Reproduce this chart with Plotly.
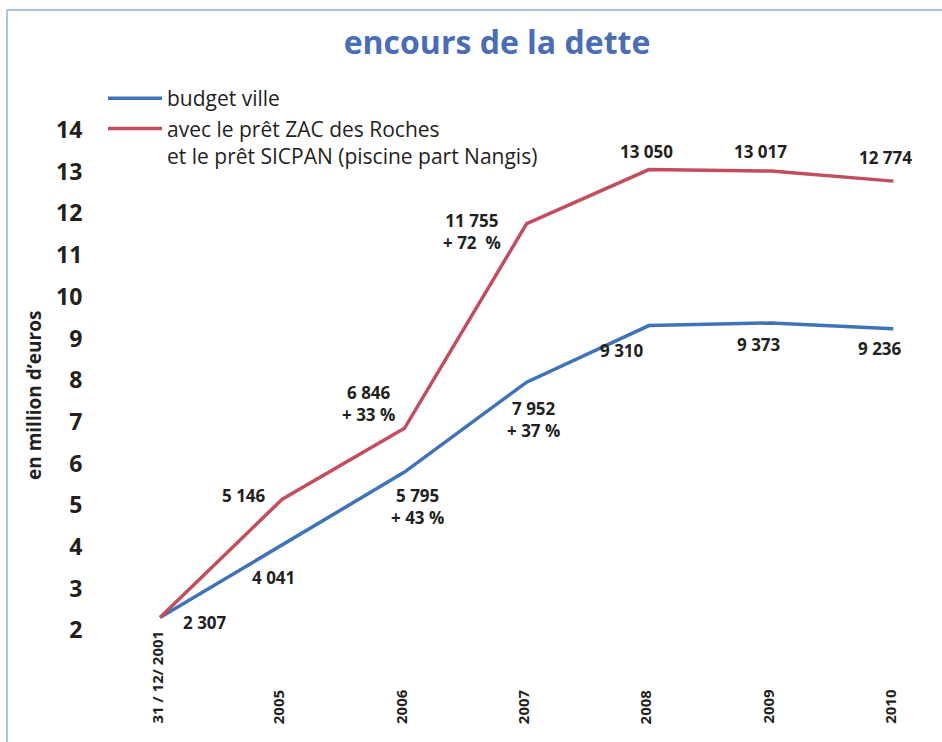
import plotly.graph_objects as go

# ---- data ----
categories = ["31 / 12/ 2001", "2005", "2006", "2007", "2008", "2009", "2010"]
budget_ville = [2.307, 4.041, 5.795, 7.952, 9.310, 9.373, 9.236]
avec_prets = [2.307, 5.146, 6.846, 11.755, 13.050, 13.017, 12.774]
budget_labels = ["2 307", "4 041", "5 795<br>+ 43 %", "7 952<br>+ 37 %", "9 310", "9 373", "9 236"]
avec_labels = [None, "5 146", "6 846<br>+ 33 %", "11 755<br>+ 72  %", "13 050", "13 017", "12 774"]
y_ticks = list(range(2, 15))

# ---- layout constants ----
W, H = 942, 742
L, R, T, B = 140, 12, 105, 95
PW, PH = W - L - R, H - T - B

def px_x(p):
    return (p - L) / PW

def px_y(p):
    return (H - B - p) / PH

BLUE = "#3f72b8"
RED = "#c24e5d"
TXT = "#231f20"
FONT = "Open Sans"

fig = go.Figure()
fig.add_trace(go.Scatter(x=categories, y=budget_ville, mode="lines", name="budget ville",
                         line=dict(color=BLUE, width=3.5)))
fig.add_trace(go.Scatter(x=categories, y=avec_prets, mode="lines",
                         name="avec le prêt ZAC des Roches<br>et le prêt SICPAN (piscine part Nangis)",
                         line=dict(color=RED, width=3.5)))

ann = []
# data labels (pixel offsets relative to points)
b_off = [(45, -5), (-9, -32), (13, -34), (7, -37), (-27, -25), (-12, -22), (-13, -20)]
r_off = [None, (-38, 4), (-36, 25), (-55, -8), (-2, 18), (-11, 20), (-8, 24)]
lab_font = dict(family=FONT, size=17, color=TXT, weight=700)
for i, (v, t, o) in enumerate(zip(budget_ville, budget_labels, b_off)):
    ann.append(dict(x=i, y=v, xref="x", yref="y", text=t, showarrow=False,
                    xshift=o[0], yshift=o[1], font=lab_font))
for i, (v, t, o) in enumerate(zip(avec_prets, avec_labels, r_off)):
    if t is None:
        continue
    ann.append(dict(x=i, y=v, xref="x", yref="y", text=t, showarrow=False,
                    xshift=o[0], yshift=o[1], font=lab_font))
# x category labels (rotated, bottom aligned)
for i, c in enumerate(categories):
    ann.append(dict(x=i, y=px_y(726), xref="x", yref="paper", text=c, textangle=-90,
                    showarrow=False, yanchor="bottom", xanchor="center", xshift=-4,
                    font=dict(family=FONT, size=15, color=TXT, weight=700)))
# y axis title
ann.append(dict(x=px_x(34), y=px_y(396), xref="paper", yref="paper", text="en million d’euros",
                textangle=-90, showarrow=False, xanchor="center", yanchor="middle",
                font=dict(family=FONT, size=19, color=TXT, weight=700)))

shapes = [
    dict(type="line", xref="paper", yref="paper", x0=px_x(7), x1=px_x(7), y0=px_y(10), y1=px_y(742),
         line=dict(color="#8eaee0", width=1.5)),
    dict(type="line", xref="paper", yref="paper", x0=px_x(7), x1=px_x(942), y0=px_y(10), y1=px_y(10),
         line=dict(color="#8eaee0", width=1.5)),
]

fig.update_layout(
    width=W, height=H,
    margin=dict(l=L, r=R, t=T, b=B, autoexpand=False),
    paper_bgcolor="white", plot_bgcolor="white",
    title=dict(text="encours de la dette", x=px_x(497), xref="paper", xanchor="center",
               y=1 - 43 / H, yanchor="middle",
               font=dict(family=FONT, size=32, color="#4a6db5", weight=700)),
    showlegend=True,
    legend=dict(x=px_x(103), y=px_y(78), xanchor="left", yanchor="top", valign="top",
                font=dict(family=FONT, size=21, color=TXT), bgcolor="rgba(0,0,0,0)",
                tracegroupgap=3, itemwidth=54),
    xaxis=dict(type="category", range=[-0.164, 6.3], showticklabels=False, showgrid=False,
               zeroline=False, showline=False, ticks=""),
    yaxis=dict(range=[1.6, 14.6], tickvals=y_ticks, showgrid=False, zeroline=False, showline=False,
               ticks="outside", ticklen=52, tickcolor="rgba(0,0,0,0)",
               tickfont=dict(family=FONT, size=23, color=TXT, weight=700)),
    annotations=ann,
    shapes=shapes,
)

fig.write_html("out.html", config={"displayModeBar": False},
               post_script="document.body.style.margin='0px';")
